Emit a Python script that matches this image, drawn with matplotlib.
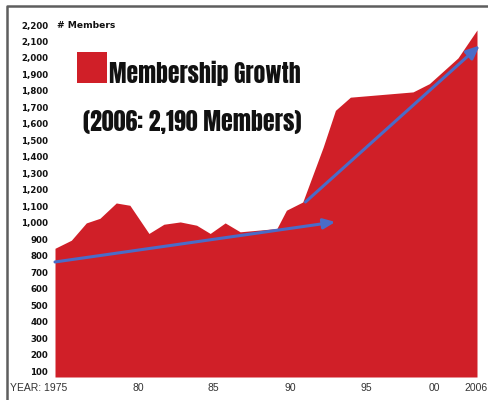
import matplotlib
matplotlib.use("Agg")
import matplotlib.pyplot as plt
from matplotlib.lines import Line2D
from matplotlib.patches import Rectangle

# ---- data ----
years = [1975.0, 1976.2, 1977.3, 1978.3, 1979.5, 1980.5, 1981.9, 1983.0, 1984.2,
         1985.4, 1986.4, 1987.5, 1988.6, 1991.3, 1992.0, 1993.2, 1994.7, 1995.6,
         1996.7, 2001.3, 2002.5, 2004.6, 2006.0]
members = [845, 894, 999, 1027, 1120, 1106, 935, 991, 1005,
           985, 935, 999, 945, 965, 1076, 1126, 1459, 1682,
           1762, 1794, 1844, 2000, 2170]

trend1_x = [1975.0, 1995.6]
trend1_y = [762, 1005]
trend2_x = [1993.4, 2006.2]
trend2_y = [1126, 2076]

ytick_vals = list(range(100, 2300, 100))
ytick_labels = [f"{v:,}" for v in ytick_vals]
xtick_pos = [1981.1, 1986.6, 1992.3, 1997.9, 2002.9, 2005.9]
xtick_labels = ["80", "85", "90", "95", "00", "2006"]

RED = "#d01f28"
BLUE = "#4a6cc8"
COND = ["Anton", "Oswald", "DejaVu Sans"]
SANS = ["Liberation Sans", "DejaVu Sans"]

fig = plt.figure(figsize=(4.88, 4.0), dpi=100)
ax = fig.add_axes([55/488, 23/400, 422/488, 352/400])
ax.set_xlim(1975, 2006)
ax.set_ylim(64, 2200)
ax.fill_between(years, members, 64, color=RED, lw=0)

for s in ax.spines.values():
    s.set_visible(False)

ax.set_yticks(ytick_vals)
ax.set_yticklabels(ytick_labels, fontsize=6.2, fontweight="bold",
                   family="DejaVu Sans", color="#111111")
ax.set_xticks(xtick_pos)
ax.set_xticklabels(xtick_labels, fontsize=7.5, color="#333333", family=SANS)
ax.tick_params(axis="both", length=0)
ax.tick_params(axis="y", pad=5)
ax.tick_params(axis="x", pad=4)

ax.annotate("", xy=(trend1_x[1], trend1_y[1]), xytext=(trend1_x[0], trend1_y[0]),
            arrowprops=dict(arrowstyle="-|>,head_length=0.7,head_width=0.3",
                            color=BLUE, lw=2.2, shrinkA=0, shrinkB=0),
            annotation_clip=False)
ax.annotate("", xy=(trend2_x[1], trend2_y[1]), xytext=(trend2_x[0], trend2_y[0]),
            arrowprops=dict(arrowstyle="-|>,head_length=0.8,head_width=0.35",
                            color=BLUE, lw=2.2, shrinkA=0, shrinkB=0),
            annotation_clip=False)

fig.text(67/488, 1 - 388/400, "YEAR: 1975", ha="right", va="center",
         fontsize=7.5, color="#333333", family=SANS)
fig.text(57/488, 1 - 25/400, "# Members", ha="left", va="center",
         fontsize=6.6, fontweight="bold", family="DejaVu Sans", color="#111111")

fig.patches.append(Rectangle((77/488, 1 - 83/400), 30/488, 31/400,
                             transform=fig.transFigure, color=RED, lw=0))
t1 = fig.text(109/488, 1 - 83/400, "Membership Growth", ha="left", va="baseline",
              fontsize=20, family=COND, color="#111111")
t2 = fig.text(83/488, 1 - 131/400, "(2006: 2,190 Members)", ha="left", va="baseline",
              fontsize=20, family=COND, color="#111111")

# fit title widths to the reference
fig.canvas.draw()
r = fig.canvas.get_renderer()
for t, w in ((t1, 191), (t2, 217)):
    bw = t.get_window_extent(r).width
    t.set_fontsize(t.get_fontsize() * w / bw)

fig.lines.append(Line2D([7/488, 7/488, 1.0], [0.0, 1 - 6/400, 1 - 6/400],
                        transform=fig.transFigure, color="#5e5e5e", lw=1.8))

fig.savefig("out.png", dpi=100)
